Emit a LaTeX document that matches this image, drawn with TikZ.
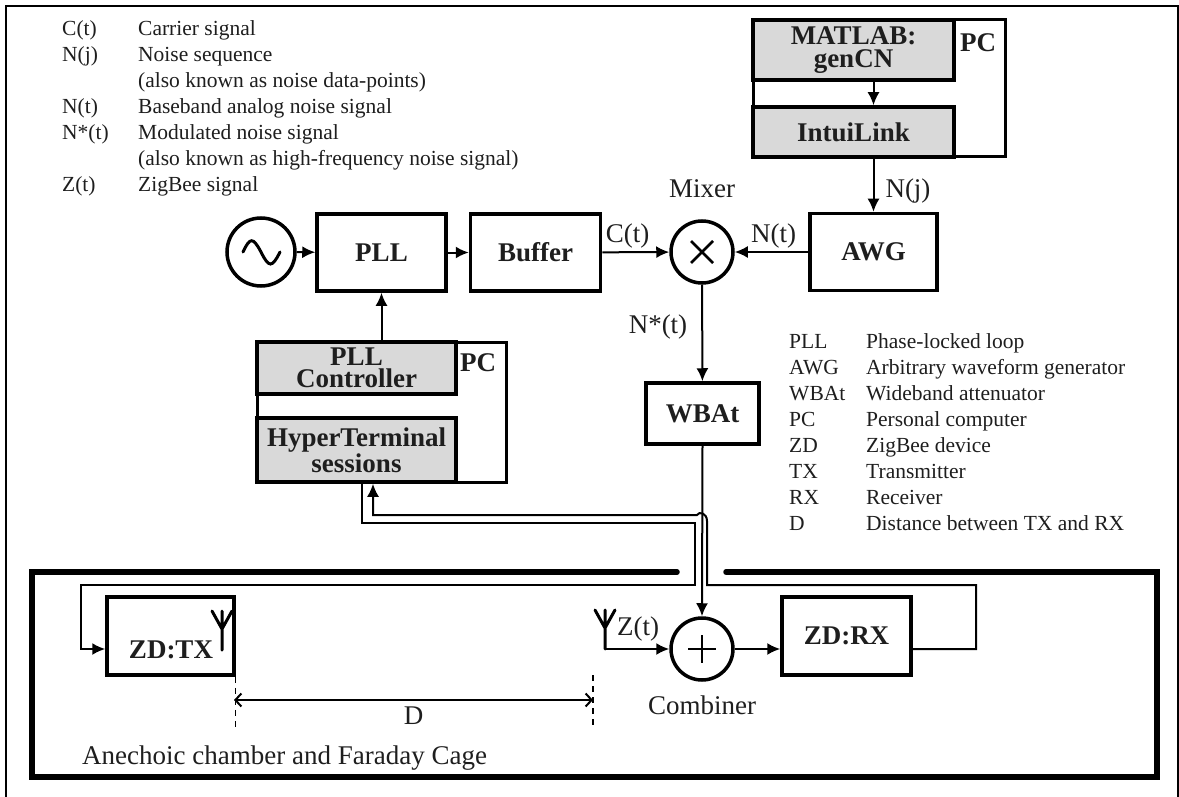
\documentclass[tikz,border=0pt]{standalone}
\usepackage{fontspec}
\setmainfont{Liberation Serif}
\usetikzlibrary{arrows.meta,positioning}
\definecolor{blockgray}{HTML}{D9D9D9}
\definecolor{ink}{HTML}{1E1E1E}
\tikzset{box/.style={draw=black,line width=3.5pt,inner sep=0pt,font=\fontsize{27}{23}\selectfont\bfseries,align=center,text=ink},
 graybox/.style={box,fill=blockgray},
 pcbox/.style={draw=black,line width=3pt,inner sep=0pt},
 sumnode/.style={circle,draw=black,line width=3.5pt,minimum size=62pt,inner sep=0pt},
 lbl/.style={font=\fontsize{27}{27}\selectfont,inner sep=0pt,text=ink},
 bold/.style={font=\fontsize{27}{27}\selectfont\bfseries,inner sep=0pt,text=ink},
 legend/.style={font=\fontsize{21.5}{24}\selectfont,inner sep=0pt,anchor=base west,text=ink},
 arr/.style={-{Latex[length=13pt,width=12pt]},line width=2pt,draw=black},
 antenna/.pic={\draw[line width=3pt,line cap=round] (0,0)--(0,-39) (-10,-39)--(0,-21)--(10,-39);}}
\begin{document}
\begin{tikzpicture}[x=1pt,y=-1pt]
\useasboundingbox (0,0) rectangle (1179,797);
% outer frame and chamber
\draw[line width=2.5pt] (6,800)--(6,6)--(1178,6)--(1178,800);
\draw[line width=5.5pt,line cap=round] (677,572)--(32,572)--(32,777)--(1157,777)--(1157,572)--(726,572);
% legends
\foreach \ypos/\sym/\txt in {36/C(t)/Carrier signal,62/N(j)/Noise sequence,88//(also known as noise data-points),114/N(t)/Baseband analog noise signal,140/N*(t)/Modulated noise signal,166//(also known as high-frequency noise signal),192/Z(t)/ZigBee signal}{
 \node[legend] (syma\ypos) at (62,\ypos) {\sym};
 \node[legend] (txta\ypos) at (138,\ypos) {\txt};
}
\foreach \ypos/\sym/\txt in {348/PLL/Phase-locked loop,374/AWG/Arbitrary waveform generator,400/WBAt/Wideband attenuator,426/PC/Personal computer,452/ZD/ZigBee device,478/TX/Transmitter,504/RX/Receiver,530/D/Distance between TX and RX}{
 \node[legend] (symb\ypos) at (789,\ypos) {\sym};
 \node[legend] (txtb\ypos) at (866,\ypos) {\txt};
}
% PC with MATLAB
\node[pcbox,minimum width=252pt,minimum height=137pt] (pcgen) at (879,88.5) {};
\node[graybox,minimum width=201pt,minimum height=60pt] (matlab) at (853.5,50) {MATLAB:\\genCN};
\node[graybox,minimum width=201pt,minimum height=50pt] (intui) at (853.5,132) {IntuiLink};
\node[bold] (pcgenlbl) at (978,43) {PC};
% signal chain
\node[sumnode,minimum size=68pt] (osc) at (261,252) {};
\node[box,minimum width=129pt,minimum height=77pt] (pll) at (381.5,252.5) {PLL};
\node[box,right=21pt of pll,minimum width=130pt,minimum height=77pt] (buffer) {Buffer};
\node[sumnode] (mixer) at (702,252) {};
\node[box,minimum width=127pt,minimum height=77pt] (awg) at (873.5,252) {AWG};
\node[lbl,above=21pt of mixer] (mixerlbl) {Mixer};
\draw[line width=2.5pt] (mixer.center)++(-11,-11)--++(22,22) (mixer.center)++(11,-11)--++(-22,22);
\coordinate (sinea) at ([shift={(-18,0)}]osc.center);
\coordinate (sineb) at ([shift={(19,0)}]osc.center);
\draw[line width=3pt,line cap=round] (sinea) .. controls +(7,-15) and +(-8,-15) .. (osc.center) .. controls +(8,16) and +(-8,16) .. (sineb);
% PC with PLL controller
\node[pcbox,minimum width=249pt,minimum height=140pt] (pcpll) at (381.5,412) {};
\node[graybox,minimum width=199pt,minimum height=52pt] (ctrl) at (356.5,368) {PLL\\[-1pt]Controller};
\node[graybox,minimum width=199pt,minimum height=64pt] (hyper) at (356.5,450) {HyperTerminal\\sessions};
\node[bold] (pcplllbl) at (478,363) {PC};
\node[box,minimum width=113pt,minimum height=61pt] (wbat) at (702.5,413.5) {WBAt};
% chamber content
\node[box,minimum width=127pt,minimum height=78pt] (zdtx) at (170.5,636) {};
\node[bold] (zdtxlbl) at (171,650) {ZD:TX};
\node[box,minimum width=129pt,minimum height=78pt] (zdrx) at (846.5,636) {ZD:RX};
\node[sumnode] (comb) at (702,649) {};
\node[lbl,below=14pt of comb] (comblbl) {Combiner};
\draw[line width=2pt] (comb.center)++(-14,0)--++(28,0) (comb.center)++(0,-14)--++(0,28);
\node[lbl] (anech) at (82,758) [anchor=west] {Anechoic chamber and Faraday Cage};
\pic at (222,650) {antenna};
\pic at (605,649) {antenna};
\coordinate (ant) at (605,649);
\node[lbl] (zlbl) at (638,629) {Z(t)};
% connectors
\draw[arr] (osc)--(pll);
\draw[arr] (pll)--(buffer);
\draw[arr] (buffer)--node[lbl,above=3pt,pos=.38]{C(t)}(mixer);
\draw[arr] (awg)--node[lbl,above=3pt,pos=.47]{N(t)}(mixer);
\draw[arr] (matlab.south -| awg.north)--(intui.north -| awg.north);
\draw[arr] (intui.south -| awg.north)--node[lbl,right=11pt,pos=.6]{N(j)}(awg.north);
\draw[arr] (mixer)--node[lbl,left=14pt,pos=.44]{N*(t)}(wbat);
\draw[arr] (pcpll.north)--(pll.south);
\draw[arr] (wbat.south)--(comb.north);
\draw[arr] (ant)--(comb.west);
\draw[arr] (comb.east)--(comb.east -| zdrx.west);
% feedback pair through the gap
\coordinate (rxout) at (comb.east -| zdrx.east);
\coordinate (rxcorner) at (976,585);
\coordinate (hopdown) at (707,585);
\coordinate (hopright) at (707,521);
\coordinate (hopleft) at (697,515);
\coordinate (hyperin) at (373,515);
\draw[arr] (rxout)-|(rxcorner)--(hopdown)--(hopright) .. controls (707,513) and (699,511) .. (hopleft)--(hyperin)--(hyperin |- hyper.south);
\coordinate (hyperout) at (362,523);
\coordinate (downleft) at (695,523);
\coordinate (downcorner) at (695,585);
\coordinate (txcorner) at (81,585);
\draw[arr] (hyperout |- hyper.south)--(hyperout)--(downleft)--(downcorner)--(txcorner)--(txcorner |- ant)--(ant -| zdtx.west);
% distance D
\coordinate (dleft) at (zdtx.south east);
\coordinate (dright) at (593,675);
\draw[line width=1.2pt,dash pattern=on 6pt off 5pt] (dleft)--++(0,52) (dright)--++(0,52);
\draw[{Straight Barb[length=6pt,width=13pt]}-{Straight Barb[length=6pt,width=13pt]},line width=2pt] (234,700)--node[lbl,below=6pt]{D}(593,700);
\end{tikzpicture}
\end{document}
